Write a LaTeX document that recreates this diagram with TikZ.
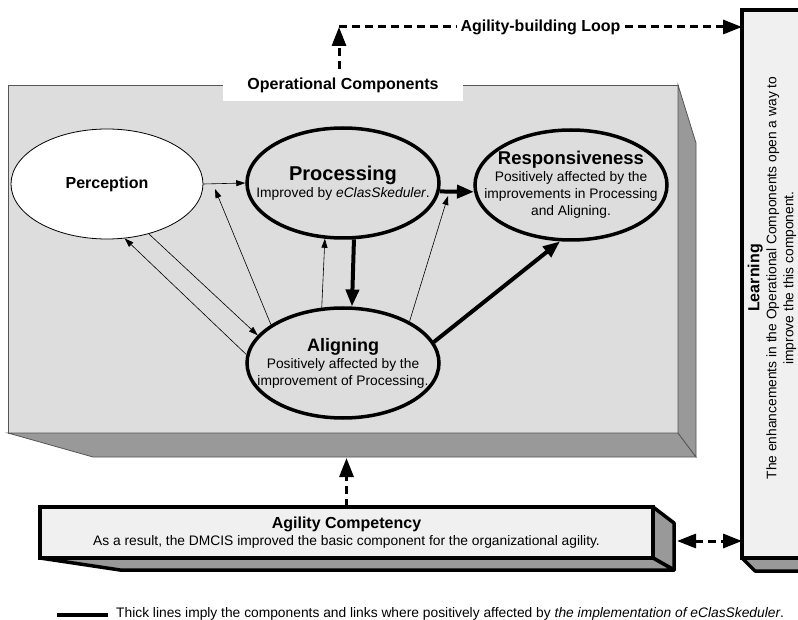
\documentclass[tikz,border=0pt]{standalone}
\usepackage{fontspec}
\setmainfont{Liberation Sans}
\usetikzlibrary{shapes.geometric,arrows.meta}
\definecolor{facegray}{HTML}{DDDDDD}
\definecolor{sidegray}{HTML}{999999}
\definecolor{panelgray}{HTML}{F0F0F0}
\definecolor{edgegray}{HTML}{555555}
\newcommand{\headfont}{\fontsize{16}{18}\selectfont\bfseries}
\newcommand{\comptitle}[1]{\fontsize{#1}{#1}\selectfont\bfseries}
\tikzset{
  txt/.style={font=\fontsize{13.8}{17}\selectfont, align=center},
  heading/.style={font=\headfont, align=center},
  bubble/.style={ellipse, minimum width=192, minimum height=110, inner sep=0},
  strong/.style={draw, line width=3.5pt, fill=facegray},
  face/.style={draw=edgegray, fill=facegray, line width=0.8pt, inner sep=0, outer sep=0},
  side/.style={draw=edgegray, fill=sidegray, line width=0.8pt},
  panel/.style={draw, line width=3.5pt, fill=panelgray, inner sep=0, outer sep=0},
  panelside/.style={draw, line width=3.5pt, fill=sidegray, line join=round},
  thinlink/.style={-{Triangle[length=9pt,width=6pt]}, line width=0.6pt},
  stronglink/.style={-{Triangle[length=17pt,width=13pt]}, line width=4pt},
  loopline/.style={line width=3pt, dash pattern=on 8pt off 5pt},
  looptip/.style={-{Triangle[length=19pt,width=14pt]}},
  twotip/.style={{Triangle[length=19pt,width=14pt]}-{Triangle[length=19pt,width=14pt]}}
}
\begin{document}
\begin{tikzpicture}[x=1pt,y=-1pt]
  \useasboundingbox (0,0) rectangle (798,620);
  % Operational components
  \node[face, minimum width=670, minimum height=348, anchor=north west] (opbox) at (8,85) {};
  \filldraw[side] (opbox.south west) -- ++(85,24) -- ++(603,0) -- (opbox.south east) -- cycle;
  \filldraw[side] (opbox.north east) -- ++(18,58) -- ++(0,314) -- (opbox.south east) -- cycle;
  \node[heading, fill=white, minimum width=240, minimum height=32] (opc) at (343,85) {Operational Components};
  % Components
  \node[bubble, draw, fill=white, line width=0.8pt] (perc) at (107,184) {};
  \node[bubble, strong] (proc) at (343,183) {};
  \node[bubble, strong] (resp) at (571,185) {};
  \node[bubble, strong] (algn) at (343,363) {};
  \node[heading] (perctxt) at (perc) {Perception};
  \node[txt] (proctxt) at (proc) {{\comptitle{20}Processing}\\Improved by \textit{eClasSkeduler}.};
  \node[txt] (resptxt) at (resp) {{\comptitle{18.5}Responsiveness}\\Positively affected by the\\improvements in Processing\\and Aligning.};
  \node[txt] (algntxt) at (algn) {{\comptitle{18}Aligning}\\Positively affected by the\\improvement of Processing.};
  % Links
  \coordinate (ppmark) at (215,189);
  \coordinate (prmark) at (448,196);
  \draw[thinlink] (perc.east) -- (proc.west);
  \draw[thinlink] (algn.175) -- (perc.-72);
  \draw[thinlink] (perc.-50) -- (algn.162);
  \draw[thinlink] (algn.152) -- (ppmark);
  \draw[thinlink] (algn.111) -- (proc.252);
  \draw[thinlink] (algn.32) -- (prmark);
  \draw[stronglink] (proc.-5) -- (resp.184);
  \draw[stronglink] (proc.-79) -- (algn.81);
  \draw[stronglink] (algn.13) -- (resp.259);
  % Learning
  \node[panel, minimum width=100, minimum height=548, anchor=north west] (learn) at (742,10) {};
  \filldraw[panelside] (learn.south west) -- ++(13,13) -- ++(100,0) -- (learn.south east) -- cycle;
  \node[txt, rotate=90] (learntxt) at (772,278) {{\headfont Learning}\\The enhancements in the Operational Components open a way to\\improve the this component.};
  % Agility competency
  \node[panel, txt, minimum width=613, minimum height=51] (agil) at (346.5,532.5) {{\headfont Agility Competency}\\As a result, the DMCIS improved the basic component for the organizational agility.};
  \filldraw[panelside] (agil.north east) -- ++(21,16) -- ++(0,47) -- (agil.south east) -- cycle;
  \filldraw[panelside] (agil.south west) -- ++(80,12) -- ++(554,0) -- (agil.south east) -- cycle;
  % Loop
  \coordinate (corner) at (339,27);
  \coordinate (opfoot) at (0,458);
  \coordinate (agilside) at (677,541);
  \draw[loopline, looptip] ([xshift=-4]opc.north) -- (corner);
  \draw[loopline, looptip] (corner) -- (corner -| learn.west) node[midway, heading, fill=white, inner sep=4] (loopname) {Agility-building Loop};
  \draw[loopline, looptip] (agil.north) -- (agil.north |- opfoot);
  \draw[loopline, twotip] (agilside) -- (agilside -| learn.west);
  % Legend
  \coordinate (lgs) at (57,615);
  \coordinate (lge) at (108,615);
  \draw[line width=4pt] (lgs) -- (lge);
  \node[txt, anchor=west, inner sep=0] (legend) at (116,614) {Thick lines imply the components and links where positively affected by \textit{the implementation of eClasSkeduler}.};
\end{tikzpicture}
\end{document}
